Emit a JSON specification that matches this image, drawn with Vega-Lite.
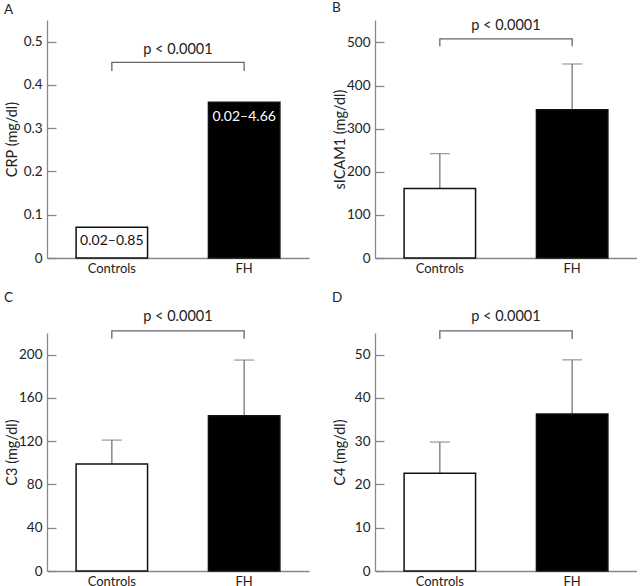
{
  "$schema": "https://vega.github.io/schema/vega-lite/v6.json",
  "background": "white",
  "padding": {"left": 4, "top": 0, "right": 0, "bottom": 0},
  "config": {
    "view": {"stroke": null},
    "font": "Lato",
    "axis": {"domainColor": "#888", "domainWidth": 1.3, "tickColor": "#888", "tickWidth": 1.3, "labelColor": "#222", "labelFont": "Lato", "labelFontSize": 13.5, "titleFont": "Lato", "titleFontSize": 14.5, "titleFontWeight": "normal", "titleColor": "#222", "grid": false},
    "axisY": {"tickSize": -9, "labelPadding": 14, "minExtent": 24, "maxExtent": 24, "titlePadding": 4},
    "axisX": {"ticks": false, "labelPadding": 4, "labelAngle": 0, "labelFontSize": 13},
    "title": {"anchor": "start", "fontSize": 13.5, "fontWeight": "normal", "font": "Lato", "color": "#222", "offset": 4},
    "text": {"font": "Lato", "fontSize": 13.5}
  },
  "columns": 2,
  "spacing": {"row": 75, "column": 66},
  "bounds": "flush",
  "concat": [
    {
      "title": "A",
      "width": 262, "height": 238,
      "encoding": {
        "x": {"field": "group", "type": "nominal", "sort": ["Controls", "FH"], "scale": {"paddingInner": 0.46, "paddingOuter": 0.22}, "axis": {"title": null}},
        "y": {"field": "v", "type": "quantitative", "scale": {"domain": [0, 0.55], "nice": false}, "axis": {"title": "CRP (mg/dl)", "values": [0, 0.1, 0.2, 0.3, 0.4, 0.5], "labelExpr": "datum.value == 0 ? '0' : format(datum.value, '.1f')"}}
      },
      "layer": [
        {
          "data": {"values": [{"group": "Controls", "v": 0.071}, {"group": "FH", "v": 0.36}]},
          "mark": {"type": "bar", "stroke": "#111", "strokeWidth": 1.5},
          "encoding": {"fill": {"field": "group", "type": "nominal", "scale": {"domain": ["Controls", "FH"], "range": ["white", "black"]}, "legend": null}}
        },
        {
          "data": {"values": [{"group": "Controls", "v": 0.432, "o": 1}, {"group": "Controls", "v": 0.452, "o": 2}, {"group": "FH", "v": 0.452, "o": 3}, {"group": "FH", "v": 0.432, "o": 4}]},
          "mark": {"type": "line", "color": "#666", "strokeWidth": 1.3},
          "encoding": {"order": {"field": "o", "type": "quantitative"}}
        },
        {
          "data": {"values": [{"group": "Controls", "v": 0.48, "label": "p < 0.0001"}]},
          "mark": {"type": "text", "color": "#222", "baseline": "middle", "fontSize": 14.5},
          "encoding": {"x": {"field": "group", "type": "nominal", "bandPosition": 1.425}, "text": {"field": "label"}}
        },
        {
          "data": {"values": [{"group": "Controls", "v": 0.039, "label": "0.02–0.85"}, {"group": "FH", "v": 0.326, "label": "0.02–4.66"}]},
          "mark": {"type": "text", "baseline": "middle", "fontSize": 14},
          "encoding": {"text": {"field": "label"}, "color": {"field": "group", "type": "nominal", "scale": {"domain": ["Controls", "FH"], "range": ["#111", "white"]}, "legend": null}}
        }
      ],
      "resolve": {"scale": {"color": "independent", "fill": "independent"}}
    },
    {
      "title": "B",
      "width": 262, "height": 238,
      "encoding": {
        "x": {"field": "group", "type": "nominal", "sort": ["Controls", "FH"], "scale": {"paddingInner": 0.46, "paddingOuter": 0.22}, "axis": {"title": null}},
        "y": {"field": "v", "type": "quantitative", "scale": {"domain": [0, 552], "nice": false}, "axis": {"title": "sICAM1 (mg/dl)", "values": [0, 100, 200, 300, 400, 500]}}
      },
      "layer": [
        {
          "data": {"values": [{"group": "Controls", "v": 161, "upper": 242}, {"group": "FH", "v": 344, "upper": 450}]},
          "layer": [
            {"mark": {"type": "rule", "color": "#777", "strokeWidth": 1.3}, "encoding": {"y2": {"field": "upper"}}},
            {"mark": {"type": "tick", "color": "#777", "thickness": 1.3, "size": 20}, "encoding": {"y": {"field": "upper", "type": "quantitative"}}},
            {"mark": {"type": "bar", "stroke": "#111", "strokeWidth": 1.5}, "encoding": {"fill": {"field": "group", "type": "nominal", "scale": {"domain": ["Controls", "FH"], "range": ["white", "black"]}, "legend": null}}}
          ]
        },
        {
          "data": {"values": [{"group": "Controls", "v": 491, "o": 1}, {"group": "Controls", "v": 508, "o": 2}, {"group": "FH", "v": 508, "o": 3}, {"group": "FH", "v": 491, "o": 4}]},
          "mark": {"type": "line", "color": "#666", "strokeWidth": 1.3},
          "encoding": {"order": {"field": "o", "type": "quantitative"}}
        },
        {
          "data": {"values": [{"group": "Controls", "v": 538, "label": "p < 0.0001"}]},
          "mark": {"type": "text", "color": "#222", "baseline": "middle", "fontSize": 14.5},
          "encoding": {"x": {"field": "group", "type": "nominal", "bandPosition": 1.425}, "text": {"field": "label"}}
        }
      ]
    },
    {
      "title": "C",
      "width": 262, "height": 238,
      "encoding": {
        "x": {"field": "group", "type": "nominal", "sort": ["Controls", "FH"], "scale": {"paddingInner": 0.46, "paddingOuter": 0.22}, "axis": {"title": null}},
        "y": {"field": "v", "type": "quantitative", "scale": {"domain": [0, 220], "nice": false}, "axis": {"title": "C3 (mg/dl)", "values": [0, 40, 80, 120, 160, 200]}}
      },
      "layer": [
        {
          "data": {"values": [{"group": "Controls", "v": 99, "upper": 121}, {"group": "FH", "v": 143.5, "upper": 195}]},
          "layer": [
            {"mark": {"type": "rule", "color": "#777", "strokeWidth": 1.3}, "encoding": {"y2": {"field": "upper"}}},
            {"mark": {"type": "tick", "color": "#777", "thickness": 1.3, "size": 20}, "encoding": {"y": {"field": "upper", "type": "quantitative"}}},
            {"mark": {"type": "bar", "stroke": "#111", "strokeWidth": 1.5}, "encoding": {"fill": {"field": "group", "type": "nominal", "scale": {"domain": ["Controls", "FH"], "range": ["white", "black"]}, "legend": null}}}
          ]
        },
        {
          "data": {"values": [{"group": "Controls", "v": 214.6, "o": 1}, {"group": "Controls", "v": 222, "o": 2}, {"group": "FH", "v": 222, "o": 3}, {"group": "FH", "v": 214.6, "o": 4}]},
          "mark": {"type": "line", "color": "#666", "strokeWidth": 1.3},
          "encoding": {"order": {"field": "o", "type": "quantitative"}}
        },
        {
          "data": {"values": [{"group": "Controls", "v": 235, "label": "p < 0.0001"}]},
          "mark": {"type": "text", "color": "#222", "baseline": "middle", "fontSize": 14.5},
          "encoding": {"x": {"field": "group", "type": "nominal", "bandPosition": 1.425}, "text": {"field": "label"}}
        }
      ]
    },
    {
      "title": "D",
      "width": 262, "height": 238,
      "encoding": {
        "x": {"field": "group", "type": "nominal", "sort": ["Controls", "FH"], "scale": {"paddingInner": 0.46, "paddingOuter": 0.22}, "axis": {"title": null}},
        "y": {"field": "v", "type": "quantitative", "scale": {"domain": [0, 55], "nice": false}, "axis": {"title": "C4 (mg/dl)", "values": [0, 10, 20, 30, 40, 50]}}
      },
      "layer": [
        {
          "data": {"values": [{"group": "Controls", "v": 22.6, "upper": 29.8}, {"group": "FH", "v": 36.3, "upper": 48.8}]},
          "layer": [
            {"mark": {"type": "rule", "color": "#777", "strokeWidth": 1.3}, "encoding": {"y2": {"field": "upper"}}},
            {"mark": {"type": "tick", "color": "#777", "thickness": 1.3, "size": 20}, "encoding": {"y": {"field": "upper", "type": "quantitative"}}},
            {"mark": {"type": "bar", "stroke": "#111", "strokeWidth": 1.5}, "encoding": {"fill": {"field": "group", "type": "nominal", "scale": {"domain": ["Controls", "FH"], "range": ["white", "black"]}, "legend": null}}}
          ]
        },
        {
          "data": {"values": [{"group": "Controls", "v": 53.6, "o": 1}, {"group": "Controls", "v": 55.5, "o": 2}, {"group": "FH", "v": 55.5, "o": 3}, {"group": "FH", "v": 53.6, "o": 4}]},
          "mark": {"type": "line", "color": "#666", "strokeWidth": 1.3},
          "encoding": {"order": {"field": "o", "type": "quantitative"}}
        },
        {
          "data": {"values": [{"group": "Controls", "v": 58.8, "label": "p < 0.0001"}]},
          "mark": {"type": "text", "color": "#222", "baseline": "middle", "fontSize": 14.5},
          "encoding": {"x": {"field": "group", "type": "nominal", "bandPosition": 1.425}, "text": {"field": "label"}}
        }
      ]
    }
  ]
}
